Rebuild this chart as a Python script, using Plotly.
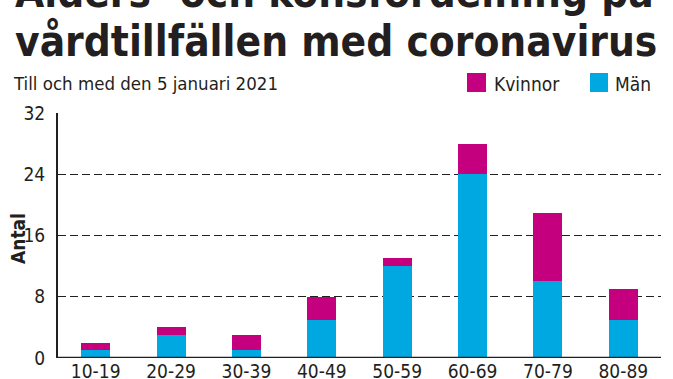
import plotly.graph_objects as go

categories = ["10-19", "20-29", "30-39", "40-49", "50-59", "60-69", "70-79", "80-89"]
man = [1, 3, 1, 5, 12, 24, 10, 5]
kvinnor = [1, 1, 2, 3, 1, 4, 9, 4]
y_ticks = [0, 8, 16, 24, 32]

title_line1 = "Ålders- och könsfördelning på"
title_line2 = "vårdtillfällen med coronavirus"
subtitle = "Till och med den 5 januari 2021"
legend_names = ["Kvinnor", "Män"]
y_title = "Antal"

MAGENTA = "#C4007E"
BLUE = "#00A8E1"
INK = "#231F20"

W, H = 673, 379
L, R, T, B = 58, 12, 113, 21
PW = W - L - R
PH = H - T - B

def px(x):
    return (x - L) / PW

def py(y):
    return (H - B - y) / PH

fig = go.Figure()
fig.add_bar(x=categories, y=man, name="Män", marker_color=BLUE, marker_line_width=0, showlegend=False)
fig.add_bar(x=categories, y=kvinnor, name="Kvinnor", marker_color=MAGENTA, marker_line_width=0, showlegend=False)

TITLE_FONT = "DejaVu Sans Condensed"
BODY_FONT = "DejaVu Sans Condensed"

annotations = [
    dict(text=f"<b>{title_line1}</b>", x=px(13), y=py(19), xref="paper", yref="paper",
         xanchor="left", yanchor="bottom", showarrow=False,
         font=dict(family=TITLE_FONT, size=42, color=INK)),
    dict(text=f"<b>{title_line2}</b>", x=px(13), y=py(68), xref="paper", yref="paper",
         xanchor="left", yanchor="bottom", showarrow=False,
         font=dict(family=TITLE_FONT, size=42, color=INK)),
    dict(text=subtitle, x=px(11), y=py(84), xref="paper", yref="paper",
         xanchor="left", yanchor="middle", showarrow=False,
         font=dict(family=BODY_FONT, size=18.5, color=INK)),
    dict(text=f"<b>{y_title}</b>", x=px(18), y=py(239), xref="paper", yref="paper",
         xanchor="center", yanchor="middle", textangle=-90, showarrow=False,
         font=dict(family=BODY_FONT, size=19, color=INK)),
    dict(text=legend_names[0], x=px(492), y=py(84), xref="paper", yref="paper",
         xanchor="left", yanchor="middle", showarrow=False,
         font=dict(family=BODY_FONT, size=19, color=INK)),
    dict(text=legend_names[1], x=px(613), y=py(84), xref="paper", yref="paper",
         xanchor="left", yanchor="middle", showarrow=False,
         font=dict(family=BODY_FONT, size=19, color=INK)),
]

shapes = [
    dict(type="rect", xref="paper", yref="paper", x0=px(467), x1=px(486), y0=py(92), y1=py(73),
         fillcolor=MAGENTA, line_width=0),
    dict(type="rect", xref="paper", yref="paper", x0=px(590), x1=px(608), y0=py(92), y1=py(73),
         fillcolor=BLUE, line_width=0),
    dict(type="line", xref="paper", yref="y", x0=0, x1=1, y0=0, y1=0,
         line=dict(color=INK, width=2.5), layer="above"),
]

fig.update_layout(
    width=W, height=H,
    margin=dict(l=L, r=R, t=T, b=B, pad=0),
    barmode="stack",
    bargap=0.615,
    plot_bgcolor="white", paper_bgcolor="white",
    font=dict(family=BODY_FONT, color=INK),
    annotations=annotations,
    shapes=shapes,
    xaxis=dict(range=[-0.5, 7.5], showgrid=False, showline=False, ticks="", automargin=False,
               tickfont=dict(size=19, family=BODY_FONT, color=INK), fixedrange=True),
    yaxis=dict(range=[0, 32], tickvals=y_ticks, showgrid=True, gridcolor=INK, gridwidth=1,
               griddash="8px,4px", zeroline=False, showline=True, linecolor=INK, linewidth=2,
               ticks="", ticklabelstandoff=7, automargin=False,
               tickfont=dict(size=19, family=BODY_FONT, color=INK), fixedrange=True),
)

fig.write_html("out.html", config={"displayModeBar": False, "staticPlot": True},
               post_script="document.body.style.margin='0px';document.body.style.overflow='hidden';")
